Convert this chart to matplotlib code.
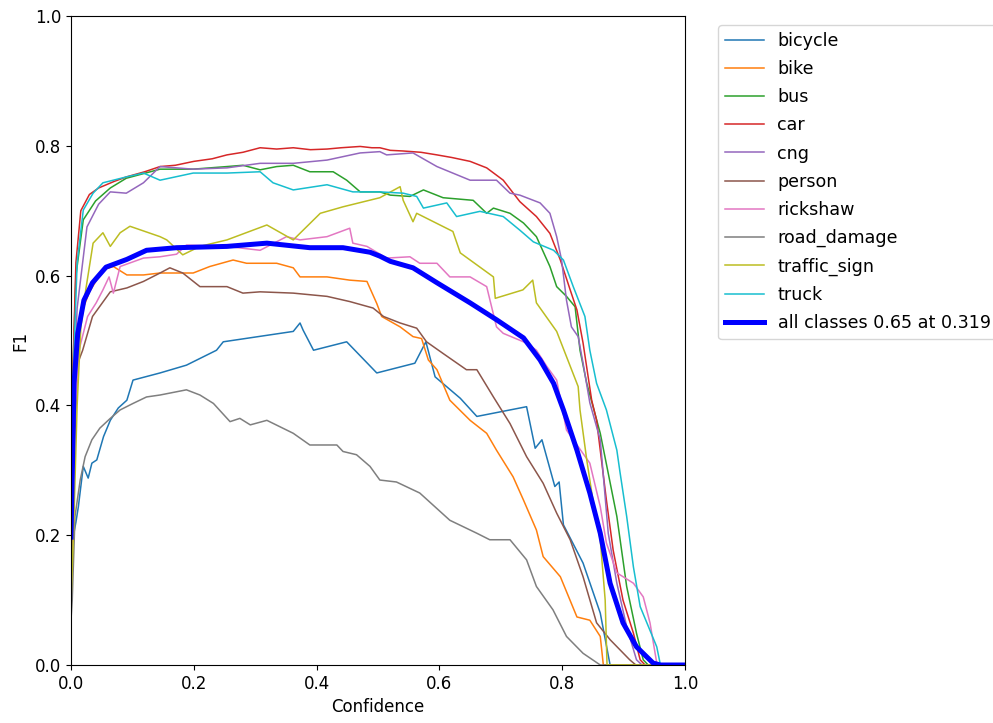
import matplotlib
matplotlib.use("Agg")
import matplotlib.pyplot as plt

names = ["bicycle", "bike", "bus", "car", "cng", "person", "rickshaw",
         "road_damage", "traffic_sign", "truck"]

bicycle_x = [0, 0.004, 0.008, 0.012, 0.02, 0.028, 0.034, 0.042, 0.053, 0.064, 0.077, 0.091, 0.101, 0.145,
             0.188, 0.237, 0.248, 0.362, 0.373, 0.378, 0.395, 0.449, 0.498, 0.56, 0.578, 0.593, 0.634, 0.661,
             0.742, 0.756, 0.767, 0.788, 0.795, 0.802, 0.834, 0.862, 0.878, 1.0]
bicycle_y = [0.19, 0.2, 0.22, 0.244, 0.306, 0.288, 0.311, 0.316, 0.352, 0.377, 0.396, 0.408, 0.439, 0.45,
             0.462, 0.485, 0.498, 0.514, 0.527, 0.516, 0.485, 0.498, 0.45, 0.465, 0.498, 0.444, 0.411, 0.383,
             0.398, 0.334, 0.347, 0.275, 0.282, 0.216, 0.157, 0.08, 0.0, 0.0]

bike_x = [0, 0.004, 0.01, 0.02, 0.03, 0.052, 0.069, 0.091, 0.118, 0.145, 0.199, 0.226, 0.264, 0.286, 0.335,
          0.362, 0.373, 0.417, 0.454, 0.482, 0.498, 0.506, 0.536, 0.557, 0.571, 0.582, 0.596, 0.617, 0.65,
          0.677, 0.693, 0.72, 0.737, 0.758, 0.769, 0.797, 0.824, 0.845, 0.862, 0.867, 1.0]
bike_y = [0.1, 0.35, 0.5, 0.55, 0.575, 0.609, 0.614, 0.601, 0.601, 0.604, 0.604, 0.614, 0.624, 0.619, 0.619,
          0.612, 0.598, 0.598, 0.593, 0.591, 0.557, 0.537, 0.521, 0.506, 0.503, 0.47, 0.455, 0.408, 0.377,
          0.357, 0.331, 0.29, 0.254, 0.208, 0.167, 0.136, 0.074, 0.069, 0.044, 0.0, 0.0]

bus_x = [0, 0.003, 0.008, 0.02, 0.04, 0.064, 0.09, 0.145, 0.199, 0.254, 0.28, 0.308, 0.335, 0.362, 0.389,
         0.427, 0.449, 0.471, 0.503, 0.52, 0.552, 0.574, 0.606, 0.655, 0.677, 0.688, 0.715, 0.737, 0.758,
         0.78, 0.791, 0.807, 0.821, 0.829, 0.84, 0.862, 0.889, 0.905, 0.921, 0.932, 0.94, 1.0]
bus_y = [0.2, 0.45, 0.6, 0.686, 0.715, 0.735, 0.75, 0.764, 0.764, 0.768, 0.77, 0.763, 0.768, 0.77, 0.76,
         0.76, 0.747, 0.729, 0.729, 0.724, 0.722, 0.732, 0.72, 0.716, 0.696, 0.704, 0.696, 0.681, 0.66,
         0.614, 0.583, 0.568, 0.552, 0.485, 0.434, 0.357, 0.229, 0.121, 0.049, 0.008, 0.0, 0.0]

car_x = [0, 0.003, 0.008, 0.016, 0.03, 0.045, 0.07, 0.09, 0.12, 0.145, 0.17, 0.2, 0.23, 0.254, 0.28, 0.308,
         0.335, 0.362, 0.39, 0.417, 0.44, 0.471, 0.49, 0.503, 0.52, 0.541, 0.57, 0.596, 0.62, 0.65, 0.677,
         0.704, 0.731, 0.758, 0.78, 0.797, 0.813, 0.824, 0.834, 0.848, 0.856, 0.872, 0.883, 0.899, 0.916,
         0.927, 0.935, 1.0]
car_y = [0.2, 0.45, 0.62, 0.70, 0.725, 0.735, 0.745, 0.752, 0.76, 0.768, 0.77, 0.776, 0.78, 0.786, 0.79,
         0.797, 0.795, 0.797, 0.794, 0.795, 0.797, 0.799, 0.797, 0.797, 0.793, 0.792, 0.79, 0.786, 0.782,
         0.776, 0.766, 0.747, 0.714, 0.691, 0.665, 0.624, 0.578, 0.547, 0.496, 0.408, 0.377, 0.254, 0.177,
         0.1, 0.049, 0.008, 0.0, 0.0]

cng_x = [0, 0.003, 0.01, 0.026, 0.045, 0.064, 0.09, 0.118, 0.145, 0.199, 0.254, 0.308, 0.362, 0.417, 0.471,
         0.503, 0.514, 0.557, 0.596, 0.65, 0.693, 0.715, 0.731, 0.764, 0.78, 0.791, 0.799, 0.807, 0.815,
         0.826, 0.834, 0.845, 0.862, 0.875, 0.889, 0.905, 0.921, 0.93, 1.0]
cng_y = [0.2, 0.4, 0.55, 0.675, 0.71, 0.729, 0.727, 0.743, 0.768, 0.764, 0.766, 0.773, 0.773, 0.778, 0.789,
         0.791, 0.786, 0.789, 0.768, 0.747, 0.747, 0.727, 0.724, 0.712, 0.696, 0.66, 0.624, 0.562, 0.521,
         0.506, 0.465, 0.404, 0.347, 0.203, 0.126, 0.059, 0.008, 0.0, 0.0]

person_x = [0, 0.004, 0.011, 0.019, 0.035, 0.064, 0.091, 0.118, 0.145, 0.161, 0.182, 0.21, 0.254, 0.28,
            0.308, 0.362, 0.417, 0.454, 0.492, 0.509, 0.536, 0.563, 0.579, 0.606, 0.644, 0.661, 0.688, 0.715,
            0.742, 0.769, 0.791, 0.813, 0.834, 0.856, 0.878, 0.91, 0.92, 1.0]
person_y = [0.1, 0.3, 0.465, 0.485, 0.537, 0.575, 0.581, 0.591, 0.604, 0.612, 0.604, 0.583, 0.583, 0.573,
            0.575, 0.573, 0.568, 0.56, 0.55, 0.537, 0.527, 0.519, 0.498, 0.48, 0.455, 0.455, 0.413, 0.372,
            0.321, 0.28, 0.234, 0.193, 0.136, 0.065, 0.039, 0.008, 0.0, 0.0]

rickshaw_x = [0, 0.004, 0.013, 0.027, 0.041, 0.052, 0.062, 0.069, 0.08, 0.118, 0.145, 0.172, 0.188, 0.254,
              0.308, 0.351, 0.373, 0.417, 0.454, 0.459, 0.482, 0.514, 0.552, 0.568, 0.596, 0.617, 0.65,
              0.677, 0.693, 0.704, 0.742, 0.758, 0.775, 0.791, 0.807, 0.845, 0.862, 0.872, 0.889, 0.916,
              0.932, 0.943, 0.954, 0.96, 1.0]
rickshaw_y = [0.15, 0.35, 0.485, 0.537, 0.558, 0.578, 0.598, 0.573, 0.614, 0.627, 0.629, 0.633, 0.647, 0.645,
              0.639, 0.66, 0.655, 0.66, 0.673, 0.65, 0.645, 0.627, 0.629, 0.619, 0.619, 0.598, 0.598,
              0.583, 0.521, 0.511, 0.496, 0.485, 0.46, 0.439, 0.362, 0.311, 0.244, 0.188, 0.142, 0.126,
              0.105, 0.065, 0.003, 0.0, 0.0]

road_damage_x = [0, 0.002, 0.0065, 0.015, 0.023, 0.034, 0.047, 0.064, 0.08, 0.101, 0.123, 0.145, 0.188,
                 0.21, 0.232, 0.259, 0.275, 0.292, 0.319, 0.362, 0.389, 0.433, 0.443, 0.465, 0.487, 0.503,
                 0.53, 0.568, 0.617, 0.661, 0.682, 0.715, 0.742, 0.758, 0.785, 0.807, 0.834, 0.862, 1.0]
road_damage_y = [0.07, 0.1, 0.229, 0.285, 0.321, 0.347, 0.365, 0.38, 0.393, 0.403, 0.413, 0.416, 0.424,
                 0.416, 0.403, 0.375, 0.38, 0.37, 0.377, 0.357, 0.339, 0.339, 0.329, 0.324, 0.306, 0.285,
                 0.282, 0.265, 0.223, 0.203, 0.193, 0.193, 0.162, 0.121, 0.085, 0.044, 0.018, 0.0, 0.0]

traffic_sign_x = [0, 0.004, 0.01, 0.016, 0.024, 0.036, 0.052, 0.064, 0.08, 0.096, 0.145, 0.156, 0.182, 0.21,
                  0.254, 0.319, 0.362, 0.406, 0.443, 0.503, 0.536, 0.541, 0.557, 0.563, 0.622, 0.634, 0.688,
                  0.691, 0.736, 0.752, 0.758, 0.791, 0.826, 0.829, 0.84, 0.85, 0.862, 0.87, 0.873, 1.0]
traffic_sign_y = [0.1, 0.2, 0.4, 0.52, 0.578, 0.65, 0.666, 0.645, 0.666, 0.676, 0.66, 0.655, 0.632, 0.645,
                  0.655, 0.678, 0.655, 0.696, 0.706, 0.72, 0.737, 0.716, 0.683, 0.696, 0.668, 0.635, 0.598,
                  0.565, 0.578, 0.593, 0.558, 0.514, 0.429, 0.393, 0.316, 0.254, 0.193, 0.1, 0.0, 0.0]

truck_x = [0, 0.002, 0.005, 0.01, 0.02, 0.036, 0.052, 0.09, 0.118, 0.145, 0.199, 0.254, 0.308, 0.329, 0.362,
           0.417, 0.459, 0.503, 0.541, 0.563, 0.574, 0.612, 0.628, 0.666, 0.704, 0.731, 0.753, 0.786, 0.802,
           0.818, 0.837, 0.845, 0.856, 0.872, 0.889, 0.894, 0.905, 0.916, 0.927, 0.954, 0.96, 1.0]
truck_y = [0.2, 0.4, 0.485, 0.62, 0.701, 0.727, 0.743, 0.752, 0.758, 0.747, 0.758, 0.758, 0.76, 0.743, 0.732,
           0.74, 0.729, 0.729, 0.727, 0.722, 0.704, 0.712, 0.691, 0.699, 0.691, 0.67, 0.652, 0.639, 0.624,
           0.583, 0.537, 0.485, 0.434, 0.393, 0.331, 0.298, 0.229, 0.151, 0.09, 0.028, 0.0, 0.0]

all_x = [0, 0.005, 0.011, 0.021, 0.035, 0.057, 0.091, 0.123, 0.172, 0.254, 0.319, 0.389, 0.443, 0.487,
         0.503, 0.52, 0.557, 0.596, 0.65, 0.693, 0.737, 0.764, 0.786, 0.802, 0.824, 0.845, 0.862, 0.878,
         0.899, 0.921, 0.948, 0.96, 1.0]
all_y = [0.197, 0.435, 0.511, 0.562, 0.589, 0.613, 0.625, 0.639, 0.643, 0.645, 0.65, 0.643, 0.643, 0.636,
         0.630, 0.622, 0.612, 0.589, 0.558, 0.532, 0.504, 0.47, 0.434, 0.393, 0.331, 0.265, 0.203, 0.126,
         0.065, 0.028, 0.003, 0.0, 0.0]
all_label = "all classes 0.65 at 0.319"

series = [(bicycle_x, bicycle_y), (bike_x, bike_y), (bus_x, bus_y), (car_x, car_y), (cng_x, cng_y),
          (person_x, person_y), (rickshaw_x, rickshaw_y), (road_damage_x, road_damage_y),
          (traffic_sign_x, traffic_sign_y), (truck_x, truck_y)]

plt.rcParams['font.family'] = ['DejaVu Sans']
fig = plt.figure(figsize=(9.93, 7.23), dpi=100)
ax = fig.add_axes([71 / 993, 1 - 665 / 723, 614 / 993, 649 / 723])

for i, (name, (xs, ys)) in enumerate(zip(names, series)):
    ax.plot(xs, ys, linewidth=1.1, color=f"C{i}", label=name)
ax.plot(all_x, all_y, linewidth=3.6, color="blue", label=all_label)

ax.set_xlim(0, 1)
ax.set_ylim(0, 1)
ax.set_xlabel("Confidence", fontsize=12)
ax.set_ylabel("F1", fontsize=12)
ax.tick_params(labelsize=12)
fig.legend(loc="upper left", bbox_to_anchor=(718 / 993, 1 - 25 / 723), fontsize=12.6,
           handlelength=2.2, borderaxespad=0, labelspacing=0.58)

fig.savefig("out.png", dpi=100)
